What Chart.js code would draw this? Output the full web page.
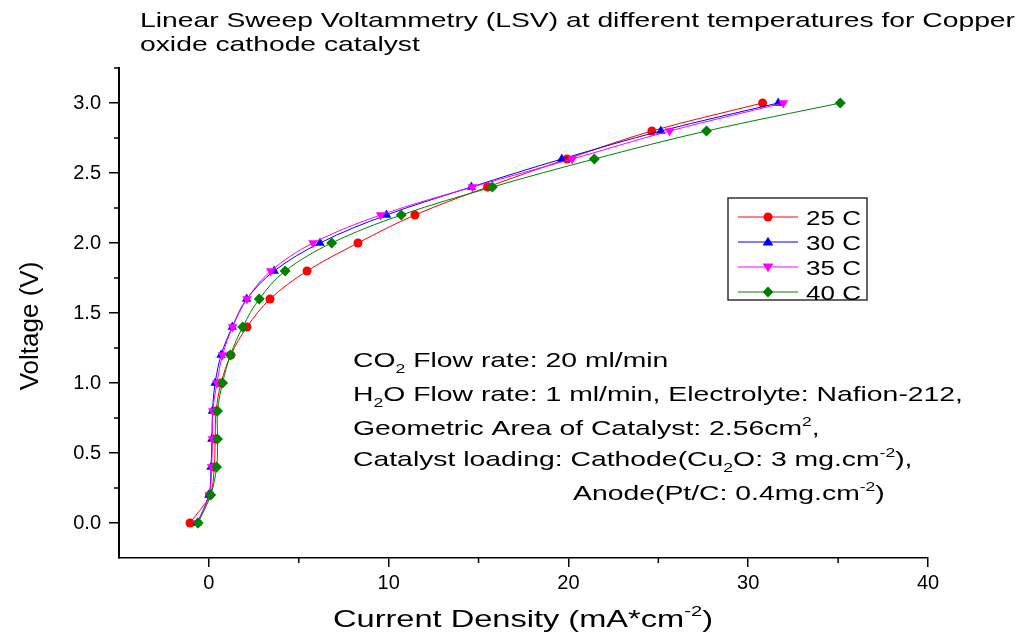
<!DOCTYPE html>
<html>
<head>
<meta charset="utf-8">
<script src="https://cdn.jsdelivr.net/npm/chart.js@4.4.0/dist/chart.umd.min.js"></script>
<style>
html, body { margin: 0; padding: 0; background: #fff; }
</style>
</head>
<body>
<canvas id="lsvChart" width="1021" height="632"></canvas>
<script>
// data
const voltage = [0, 0.2, 0.4, 0.6, 0.8, 1.0, 1.2, 1.4, 1.6, 1.8, 2.0, 2.2, 2.4, 2.6, 2.8, 3.0];
const current25 = [-1.05, 0.05, 0.3, 0.35, 0.4, 0.68, 1.22, 2.12, 3.4, 5.46, 8.29, 11.46, 15.5, 19.92, 24.64, 30.8];
const current30 = [-0.65, 0.0, 0.12, 0.17, 0.2, 0.35, 0.68, 1.3, 2.1, 3.63, 6.18, 9.88, 14.6, 19.63, 25.14, 31.67];
const current35 = [-0.65, 0.02, 0.15, 0.2, 0.22, 0.45, 0.76, 1.32, 2.12, 3.44, 5.79, 9.55, 14.66, 20.21, 25.63, 31.96];
const current40 = [-0.6, 0.1, 0.43, 0.48, 0.48, 0.76, 1.2, 1.88, 2.8, 4.24, 6.83, 10.7, 15.77, 21.44, 27.68, 35.12];
const seriesLabels = ['25 C', '30 C', '35 C', '40 C'];

const xTicks = [0, 10, 20, 30, 40];
const xMinor = [5, 15, 25, 35];
const yTicks = [0, 0.5, 1.0, 1.5, 2.0, 2.5, 3.0];
const yMinor = [0.25, 0.75, 1.25, 1.75, 2.25, 2.75, 3.25];

const FONT = '"Liberation Sans", Arial, sans-serif';

function pts(xs) {
  return xs.map((x, i) => ({ x: x, y: voltage[i] }));
}

function series(label, xs, color, style, rot, radius, order) {
  return {
    label: label,
    data: pts(xs),
    showLine: true,
    borderColor: color,
    backgroundColor: color,
    borderWidth: 1,
    tension: 0.35,
    pointStyle: style,
    rotation: rot,
    pointRadius: radius,
    pointBorderWidth: 0,
    order: order
  };
}

// text with sub/superscripts, stretched horizontally like the original
function richWidth(ctx, segs, size) {
  let w = 0;
  segs.forEach(s => {
    ctx.font = (s[1] ? size * 0.62 : size) + 'px ' + FONT;
    w += ctx.measureText(s[0]).width;
  });
  return w;
}

function drawRich(ctx, segs, x, y, size, sx) {
  ctx.save();
  ctx.translate(x, y);
  ctx.scale(sx, 1);
  ctx.textAlign = 'left';
  ctx.textBaseline = 'alphabetic';
  ctx.fillStyle = '#000';
  let cx = 0;
  segs.forEach(s => {
    ctx.font = (s[1] ? size * 0.62 : size) + 'px ' + FONT;
    const dy = s[1] === 'sub' ? size * 0.3 : (s[1] === 'sup' ? -size * 0.45 : 0);
    ctx.fillText(s[0], cx, dy);
    cx += ctx.measureText(s[0]).width;
  });
  ctx.restore();
}

function marker(ctx, style, rot, x, y, r) {
  ctx.beginPath();
  if (style === 'circle') {
    ctx.arc(x, y, r, 0, Math.PI * 2);
  } else if (style === 'triangle') {
    const d = rot ? -1 : 1;
    ctx.moveTo(x, y - d * r * 1.15);
    ctx.lineTo(x - r * 1.2, y + d * r * 0.8);
    ctx.lineTo(x + r * 1.2, y + d * r * 0.8);
    ctx.closePath();
  } else {
    ctx.moveTo(x, y - r * 1.2);
    ctx.lineTo(x + r * 1.2, y);
    ctx.lineTo(x, y + r * 1.2);
    ctx.lineTo(x - r * 1.2, y);
    ctx.closePath();
  }
  ctx.fill();
}

const notes = [
  { x: 353, y: 367, segs: [['CO'], ['2', 'sub'], [' Flow rate: 20 ml/min']] },
  { x: 353, y: 401, segs: [['H'], ['2', 'sub'], ['O Flow rate: 1 ml/min, Electrolyte: Nafion-212,']] },
  { x: 353, y: 435, segs: [['Geometric Area of Catalyst: 2.56cm'], ['2', 'sup'], [',']] },
  { x: 353, y: 466, segs: [['Catalyst loading: Cathode(Cu'], ['2', 'sub'], ['O: 3 mg.cm'], ['-2', 'sup'], ['),']] },
  { x: 573, y: 500, segs: [['Anode(Pt/C: 0.4mg.cm'], ['-2', 'sup'], [')']] }
];

const decorPlugin = {
  id: 'decor',
  afterDraw(chart) {
    const ctx = chart.ctx;
    const xs = chart.scales.x, ys = chart.scales.y;
    const area = chart.chartArea;

    // minor ticks
    ctx.save();
    ctx.strokeStyle = '#000';
    ctx.lineWidth = 1.5;
    yMinor.forEach(v => {
      const py = ys.getPixelForValue(v);
      ctx.beginPath(); ctx.moveTo(area.left - 5, py); ctx.lineTo(area.left, py); ctx.stroke();
    });
    xMinor.forEach(v => {
      const px = xs.getPixelForValue(v);
      ctx.beginPath(); ctx.moveTo(px, area.bottom); ctx.lineTo(px, area.bottom + 5); ctx.stroke();
    });
    ctx.restore();

    // title
    const t1 = [['Linear Sweep Voltammetry (LSV) at different temperatures for Copper']];
    const tsx = 875 / richWidth(ctx, t1, 21);
    drawRich(ctx, t1, 140, 27, 21, tsx);
    drawRich(ctx, [['oxide cathode catalyst']], 140, 51, 21, tsx);

    // axis titles
    const xt = [['Current Density (mA*cm'], ['-2', 'sup'], [')']];
    drawRich(ctx, xt, 333, 627, 24, 380 / richWidth(ctx, xt, 24));
    ctx.save();
    ctx.translate(38, 326);
    ctx.rotate(-Math.PI / 2);
    ctx.font = '26px ' + FONT;
    ctx.fillStyle = '#000';
    ctx.textAlign = 'center';
    ctx.fillText('Voltage (V)', 0, 0);
    ctx.restore();

    // annotation
    const nsx = 610 / richWidth(ctx, notes[1].segs, 21);
    notes.forEach(n => drawRich(ctx, n.segs, n.x, n.y, 21, nsx));

    // legend
    ctx.save();
    ctx.strokeStyle = '#333';
    ctx.lineWidth = 1.5;
    ctx.strokeRect(728, 198, 139, 102);
    chart.data.datasets.forEach((ds, i) => {
      const ly = 217 + i * 25;
      ctx.strokeStyle = ds.borderColor;
      ctx.lineWidth = 1;
      ctx.beginPath(); ctx.moveTo(738, ly); ctx.lineTo(798, ly); ctx.stroke();
      ctx.fillStyle = ds.borderColor;
      marker(ctx, ds.pointStyle, ds.rotation, 768, ly, 4.5);
      drawRich(ctx, [[ds.label]], 806, ly + 8, 20, 1.3);
    });
    ctx.restore();
  }
};

const config = {
  type: 'scatter',
  data: {
    datasets: [
      series(seriesLabels[0], current25, '#FF0000', 'circle', 0, 4.5, 4),
      series(seriesLabels[1], current30, '#0000FF', 'triangle', 0, 5.5, 3),
      series(seriesLabels[2], current35, '#FF00FF', 'triangle', 180, 5.5, 2),
      series(seriesLabels[3], current40, '#008000', 'rectRot', 0, 5.5, 1)
    ]
  },
  options: {
    responsive: false,
    animation: false,
    layout: { padding: { top: 68, right: 93, bottom: 0, left: 0 } },
    plugins: {
      legend: { display: false },
      title: { display: false },
      tooltip: { enabled: false }
    },
    scales: {
      x: {
        type: 'linear',
        min: -5,
        max: 40,
        afterBuildTicks: s => { s.ticks = xTicks.map(v => ({ value: v })); },
        afterFit: s => { s.height = 74; },
        grid: { drawOnChartArea: false, color: '#000', lineWidth: 1.5, tickLength: 9 },
        border: { color: '#000', width: 1.5 },
        ticks: { color: '#000', font: { family: FONT, size: 20 }, padding: 4, maxRotation: 0,
          callback: v => String(v) }
      },
      y: {
        type: 'linear',
        min: -0.25,
        max: 3.25,
        afterBuildTicks: s => { s.ticks = yTicks.map(v => ({ value: v })); },
        afterFit: s => { s.width = 119; },
        grid: { drawOnChartArea: false, color: '#000', lineWidth: 1.5, tickLength: 10 },
        border: { color: '#000', width: 2 },
        ticks: { color: '#000', font: { family: FONT, size: 20 }, padding: 8,
          callback: v => Number(v).toFixed(1) }
      }
    }
  },
  plugins: [decorPlugin]
};

const lsvChart = new Chart(document.getElementById('lsvChart').getContext('2d'), config);
</script>
</body>
</html>
